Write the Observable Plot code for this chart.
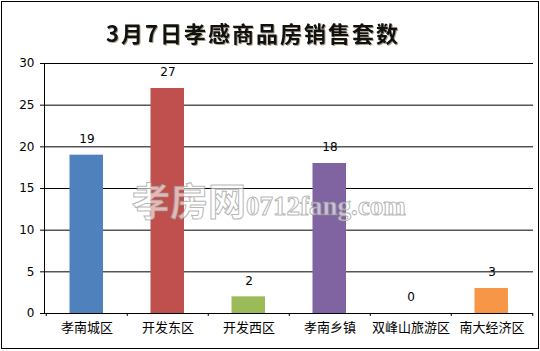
<!DOCTYPE html>
<html><head><meta charset="utf-8">
<script src="https://cdn.jsdelivr.net/npm/d3@7"></script>
<script src="https://cdn.jsdelivr.net/npm/@observablehq/plot@0.6"></script>
<style>
body{margin:0;background:#fff;}
#wrap{position:relative;width:540px;height:351px;}
#box{position:absolute;left:1px;top:1px;width:536px;height:346px;border:1px solid #000;pointer-events:none;}
#wm{position:absolute;left:132px;top:171px;line-height:1;font:bold 38px "Noto Sans CJK SC";color:rgba(255,255,255,0.6);-webkit-text-stroke:1px rgba(140,140,140,0.65);white-space:nowrap;pointer-events:none;}
#wm span{font:bold 27px "Liberation Serif";letter-spacing:0px;}
</style></head>
<body><div id="wrap"><div id="box"></div></div>
<script>
const title = "3月7日孝感商品房销售套数";
const categories = ["孝南城区","开发东区","开发西区","孝南乡镇","双峰山旅游区","南大经济区"];
const values = [19, 27, 2, 18, 0, 3];
const colors = ["#4F81BD","#C0504D","#9BBB59","#8064A2","#F79646","#F79646"];
const yTicks = [0,5,10,15,20,25,30];
const data = categories.map((c,i)=>({cat:c, value:values[i], color:colors[i]}));

const chart = Plot.plot({
  width: 540, height: 351,
  marginLeft: 44, marginRight: 7, marginTop: 63, marginBottom: 38,
  style: {fontFamily: "'Noto Sans CJK SC', sans-serif", fontSize: "12px", color: "#000", background: "transparent"},
  x: {domain: categories, padding: 0, label: null},
  y: {domain: [0, 30], label: null},
  marks: [
    Plot.gridY(yTicks, {stroke: "#000", strokeOpacity: 1}),
    Plot.axisY(yTicks, {tickSize: 4, tickPadding: 6, fontFamily: "DejaVu Sans", fontSize: 12, label: null}),
    Plot.barY(data, {x: "cat", y: "value", fill: "color", insetLeft: 23.5, insetRight: 24}),
    Plot.frame({anchor: "left", stroke: "#000"}),
    Plot.ruleY([0], {stroke: "#000"}),
    Plot.ruleX(categories, {x: d=>d, y1: 0, y2: -0.36, dx: -40.75, stroke: "#000"}),
    Plot.ruleX([categories[categories.length-1]], {x: d=>d, y1: 0, y2: -0.36, dx: 40.75, stroke: "#000"}),
    Plot.axisX({tickSize: 0, tickPadding: 9, fontSize: 13, label: null}),
    Plot.text(data, {x: "cat", y: "value", text: d=>String(d.value), dy: -16, fontFamily: "DejaVu Sans", fontSize: 12}),
    Plot.text([title], {frameAnchor: "top", text: d=>d, dx: -36, dy: -37, fontSize: 22, fontWeight: "bold", fontFamily: "'Noto Sans CJK SC'", fill: "#111", className: "ttl"})
  ]
});
d3.select(chart).selectAll(".ttl text").style("letter-spacing", "2px").attr("stroke", null)
  .style("filter", "drop-shadow(1px 1px 0 rgba(120,100,60,0.6))");
const wrap = document.getElementById("wrap");
wrap.insertBefore(chart, wrap.firstChild);
const wm = document.createElement("div");
wm.id = "wm";
wm.innerHTML = "孝房网<span>0712fang.com</span>";
wrap.appendChild(wm);
</script>
</body></html>
